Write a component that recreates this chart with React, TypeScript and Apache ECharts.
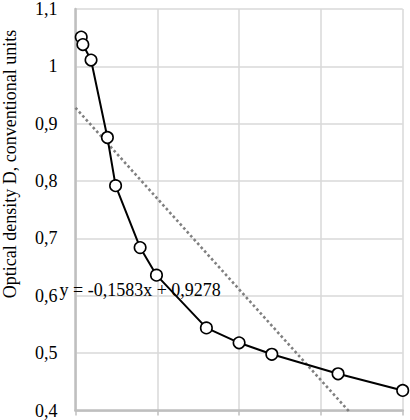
import React, { useEffect, useRef } from "react";
import * as echarts from "echarts";

const xValues = [0.07, 0.09, 0.19, 0.39, 0.49, 0.79, 0.99, 1.6, 2.0, 2.4, 3.21, 4.0];
const yValues = [1.051, 1.038, 1.011, 0.876, 0.792, 0.684, 0.636, 0.544, 0.518, 0.498, 0.464, 0.435];
const trendSlope = -0.1583;
const trendIntercept = 0.9278;
const trendXRange = [0, 4];
const equationText = "y = -0,1583x + 0,9278";
const yAxisTitle = "Optical density D, conventional units";

const FONT = "'Liberation Serif', 'Times New Roman', serif";

export default function App() {
  const ref = useRef<HTMLDivElement>(null);
  useEffect(() => {
    if (!ref.current) return;
    const chart = echarts.init(ref.current, undefined, { renderer: "svg" });
    const points = xValues.map((x, i) => [x, yValues[i]]);
    const trend = trendXRange.map((x) => [x, trendIntercept + trendSlope * x]);
    chart.setOption({
      animation: false,
      backgroundColor: "#ffffff",
      grid: { left: 75.5, top: 7.3, right: 7.3, bottom: 9.5, containLabel: false },
      xAxis: {
        type: "value",
        min: 0,
        max: 4,
        interval: 1,
        axisLine: { show: true, lineStyle: { color: "#bfbfbf", width: 2.5 } },
        axisTick: { show: true, length: 5, lineStyle: { color: "#bfbfbf", width: 1.5 } },
        axisLabel: { show: false },
        splitLine: { show: true, lineStyle: { color: "#d9d9d9", width: 1.5 } },
      },
      yAxis: {
        type: "value",
        min: 0.4,
        max: 1.1,
        interval: 0.1,
        axisLine: { show: true, lineStyle: { color: "#bfbfbf", width: 2.5 } },
        axisTick: { show: false },
        axisLabel: {
          margin: 18,
          color: "#000000",
          fontFamily: FONT,
          fontSize: 18,
          formatter: (v: number) => String(Number(v.toFixed(2))).replace(".", ","),
        },
        splitLine: { show: true, lineStyle: { color: "#d9d9d9", width: 1.5 } },
      },
      series: [
        {
          type: "line",
          data: trend,
          showSymbol: false,
          symbol: "none",
          clip: true,
          lineStyle: { color: "#808080", width: 2.6, type: [2.6, 2.6] },
          silent: true,
          z: 2,
        },
        {
          type: "line",
          data: points,
          symbol: "circle",
          symbolSize: 11.5,
          clip: false,
          lineStyle: { color: "#000000", width: 2 },
          itemStyle: { color: "#ffffff", borderColor: "#000000", borderWidth: 1.6 },
          z: 3,
        },
      ],
      graphic: [
        {
          type: "text",
          left: 59.5,
          top: 281,
          z: 10,
          style: {
            text: equationText,
            fontFamily: FONT,
            fontSize: 18,
            fill: "#000000",
          },
        },
        {
          type: "text",
          x: 10,
          y: 164,
          rotation: Math.PI / 2,
          z: 10,
          style: {
            text: yAxisTitle,
            fontFamily: FONT,
            fontSize: 18,
            fill: "#000000",
            align: "center",
            verticalAlign: "middle",
          },
        },
      ],
    });
    return () => chart.dispose();
  }, []);
  return (
    <div
      ref={ref}
      style={{ position: "absolute", left: 0, top: 0, width: 410, height: 420, background: "#fff" }}
    />
  );
}
